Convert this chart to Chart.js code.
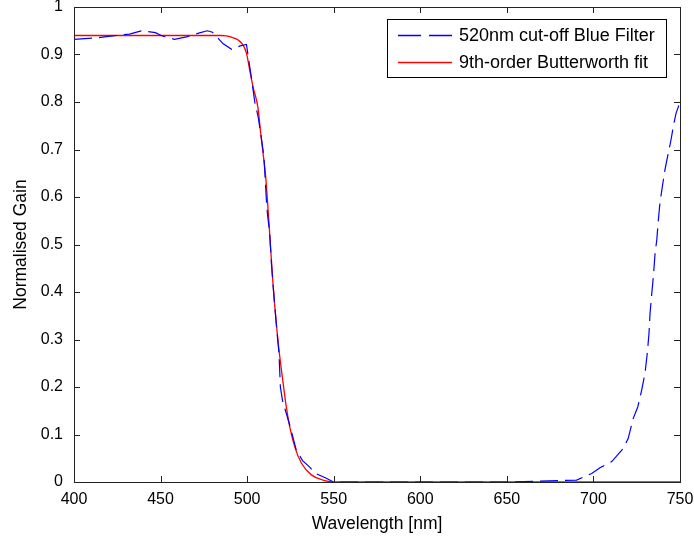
<!doctype html>
<html lang="en">
  <head>
    <meta charset="utf-8">
    <title>Blue filter response</title>
    <style>
      * { margin: 0; padding: 0; }
      body { background: #fff; }
      .chartBox { width: 694px; height: 539px; }
    </style>
  </head>
  <body>
    <div class="chartBox">
      <canvas id="myChart" width="694" height="539"></canvas>
    </div>
    <script src="https://cdn.jsdelivr.net/npm/chart.js"></script>
    <script>
    // measured filter response (blue, dashed)
    const blueWl = [400, 413, 420, 432, 439, 447, 451, 458, 465, 472, 477, 480, 486, 491, 496, 499.6,
      502.5, 504.4, 506.3, 507.8, 509.7, 511.1, 511.7, 513, 514, 515.3, 516.9, 518.4, 519.2, 520.5,
      524.6, 528.4, 532, 536, 539, 545.7, 550, 600, 650, 690.3, 699, 703.8, 710.6, 717.3, 720.1,
      723, 725.6, 727.9, 729.8, 731.1, 732.1, 732.7, 733.7, 734.6, 735.6, 736.6, 737.5, 738.4,
      739.8, 741.3, 743.2, 744.8, 746.1, 747.7, 750];
    const blueGain = [0.932, 0.935, 0.938, 0.943, 0.95, 0.946, 0.939, 0.932, 0.937, 0.945, 0.95, 0.947,
      0.923, 0.911, 0.918, 0.921, 0.85, 0.80, 0.77, 0.735, 0.685, 0.594, 0.566, 0.524, 0.461, 0.40,
      0.33, 0.27, 0.2, 0.17, 0.12, 0.067, 0.045, 0.032, 0.019, 0.008, 0, 0, 0, 0.004, 0.018, 0.03,
      0.043, 0.071, 0.092, 0.134, 0.158, 0.194, 0.229, 0.271, 0.313, 0.355, 0.397, 0.432, 0.481,
      0.51, 0.552, 0.587, 0.622, 0.657, 0.692, 0.72, 0.748, 0.776, 0.80];

    // butterworth fit (red)
    const redWl = [400, 485, 488, 492, 495, 497.6, 499.6, 501.5, 503.4, 506.3, 507.8, 509.2, 510.7,
      511.7, 513, 514.9, 516.5, 518.4, 520.3, 522.3, 524.6, 527.5, 531.3, 537.1, 543.8, 547.6, 550, 750];
    const redGain = [0.94, 0.94, 0.939, 0.935, 0.93, 0.92, 0.903, 0.867, 0.832, 0.787, 0.735, 0.692,
      0.643, 0.594, 0.524, 0.419, 0.348, 0.278, 0.222, 0.166, 0.116, 0.074, 0.04, 0.015, 0.004, 0.001, 0, 0];

    const seriesLabels = ['520nm cut-off Blue Filter', '9th-order Butterworth fit'];
    const xTicks = [400, 450, 500, 550, 600, 650, 700, 750];
    const yTicks = [0, 0.1, 0.2, 0.3, 0.4, 0.5, 0.6, 0.7, 0.8, 0.9, 1];

    const FONT = '"Liberation Sans", Arial, sans-serif';

    const pts = (xs, ys) => xs.map((x, i) => ({x: x, y: ys[i]}));

    const data = {
      datasets: [{
        label: seriesLabels[0],
        data: pts(blueWl, blueGain),
        borderColor: '#0000ff',
        borderWidth: 1.2,
        borderDash: [18, 7],
        pointRadius: 0,
        tension: 0
      }, {
        label: seriesLabels[1],
        data: pts(redWl, redGain),
        borderColor: '#ff0000',
        borderWidth: 1.3,
        pointRadius: 0,
        cubicInterpolationMode: 'monotone'
      }]
    };

    // no label overflow padding, keeps the plot box where matlab put it
    const noPad = s => { s.paddingLeft = 0; s.paddingRight = 0; s.paddingTop = 0; s.paddingBottom = 0; };

    // matlab style frame with inward ticks + boxed legend
    const frame = {
      id: 'frame',
      afterDatasetsDraw(chart) {
        const {ctx, chartArea: a, scales} = chart;
        ctx.save();
        ctx.strokeStyle = '#222';
        ctx.lineWidth = 1;
        ctx.setLineDash([]);
        ctx.strokeRect(Math.round(a.left) + 0.5, Math.round(a.top) + 0.5,
          Math.round(a.right - a.left), Math.round(a.bottom - a.top));
        const tl = 6;
        ctx.beginPath();
        xTicks.forEach(v => {
          const x = Math.round(scales.x.getPixelForValue(v)) + 0.5;
          ctx.moveTo(x, a.bottom); ctx.lineTo(x, a.bottom - tl);
          ctx.moveTo(x, a.top); ctx.lineTo(x, a.top + tl);
        });
        yTicks.forEach(v => {
          const y = Math.round(scales.y.getPixelForValue(v)) + 0.5;
          ctx.moveTo(a.left, y); ctx.lineTo(a.left + tl, y);
          ctx.moveTo(a.right, y); ctx.lineTo(a.right - tl, y);
        });
        ctx.stroke();

        // legend
        const lx = 387, ly = 19, lw = 279, lh = 58;
        ctx.fillStyle = '#fff';
        ctx.fillRect(lx, ly, lw, lh);
        ctx.strokeStyle = '#000';
        ctx.strokeRect(lx + 0.5, ly + 0.5, lw, lh);
        const rows = [35, 62];
        chart.data.datasets.forEach((ds, i) => {
          ctx.strokeStyle = ds.borderColor;
          ctx.lineWidth = 1.3;
          ctx.setLineDash(i === 0 ? [23, 8] : []);
          ctx.beginPath();
          ctx.moveTo(398, rows[i] + 0.5);
          ctx.lineTo(452, rows[i] + 0.5);
          ctx.stroke();
          ctx.setLineDash([]);
          ctx.fillStyle = '#000';
          ctx.font = '18px ' + FONT;
          ctx.textBaseline = 'middle';
          ctx.fillText(ds.label, 459, rows[i] + 1);
        });
        ctx.restore();
      }
    };

    const config = {
      type: 'line',
      data,
      options: {
        responsive: false,
        animation: false,
        layout: { padding: { left: 0, right: 14, top: 7, bottom: 0 } },
        plugins: { legend: { display: false }, tooltip: { enabled: false } },
        scales: {
          x: {
            type: 'linear',
            min: 400, max: 750,
            afterBuildTicks: s => { s.ticks = xTicks.map(v => ({value: v})); },
            afterFit: s => { s.height = 57; noPad(s); },
            grid: { display: false, drawTicks: false },
            border: { display: false },
            ticks: { color: '#000', padding: 8, font: { family: FONT, size: 16 }, maxRotation: 0 },
            title: { display: true, text: 'Wavelength [nm]', color: '#000', padding: { top: 0, bottom: 4 },
              font: { family: FONT, size: 17.5 } }
          },
          y: {
            min: 0, max: 1,
            afterBuildTicks: s => { s.ticks = yTicks.map(v => ({value: v})); },
            afterFit: s => { s.width = 74; noPad(s); },
            grid: { display: false, drawTicks: false },
            border: { display: false },
            ticks: { color: '#000', padding: 11, font: { family: FONT, size: 16 },
              callback: v => String(Math.round(v * 10) / 10) },
            title: { display: true, text: 'Normalised Gain', color: '#000', padding: { top: 11, bottom: 0 },
              font: { family: FONT, size: 17.5 } }
          }
        }
      },
      plugins: [frame]
    };

    const myChart = new Chart(document.getElementById('myChart'), config);
    </script>
  </body>
</html>
